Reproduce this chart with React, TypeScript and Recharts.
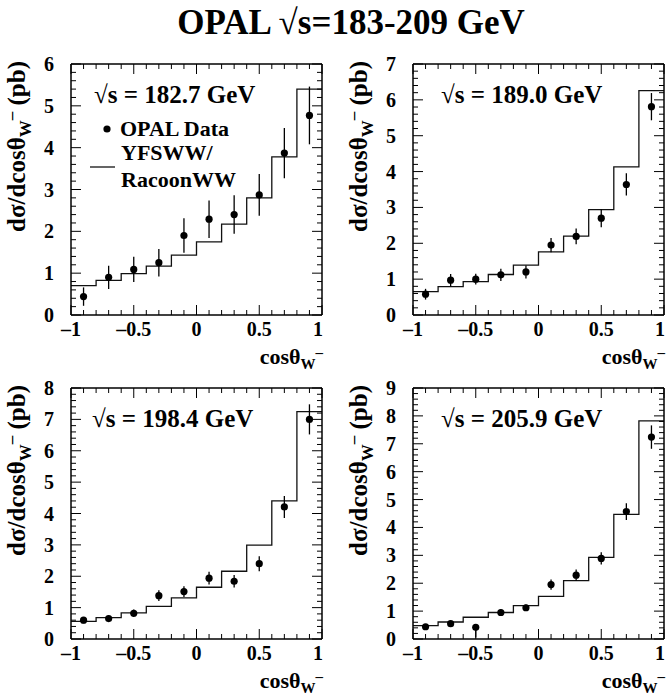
import React from 'react';
import { ComposedChart, Line, Scatter, ErrorBar, XAxis, YAxis } from 'recharts';

const FONT = '"Liberation Serif", "Times New Roman", Times, serif';

// ---------- data ----------
const binEdges = [-1, -0.8, -0.6, -0.4, -0.2, 0, 0.2, 0.4, 0.6, 0.8, 1];
const binCenters = [-0.9, -0.7, -0.5, -0.3, -0.1, 0.1, 0.3, 0.5, 0.7, 0.9];

const energyLabels = ['√s = 182.7 GeV', '√s = 189.0 GeV', '√s = 198.4 GeV', '√s = 205.9 GeV'];

const mc1827 = [0.70, 0.83, 0.99, 1.17, 1.43, 1.75, 2.17, 2.80, 3.78, 5.40];
const data1827 = [0.44, 0.90, 1.09, 1.25, 1.90, 2.29, 2.40, 2.87, 3.87, 4.77];
const err1827 = [0.22, 0.28, 0.30, 0.33, 0.41, 0.45, 0.46, 0.50, 0.60, 0.69];

const mc1890 = [0.65, 0.79, 0.93, 1.13, 1.39, 1.76, 2.20, 2.94, 4.13, 6.26];
const data1890 = [0.58, 0.97, 1.00, 1.12, 1.20, 1.95, 2.19, 2.70, 3.64, 5.81];
const err1890 = [0.15, 0.17, 0.15, 0.17, 0.18, 0.20, 0.22, 0.25, 0.31, 0.38];

const mc1984 = [0.56, 0.68, 0.83, 1.04, 1.31, 1.65, 2.16, 2.99, 4.40, 7.25];
const data1984 = [0.60, 0.65, 0.82, 1.38, 1.51, 1.94, 1.84, 2.40, 4.21, 7.00];
const err1984 = [0.10, 0.10, 0.12, 0.17, 0.17, 0.20, 0.20, 0.24, 0.35, 0.48];

const mc2059 = [0.48, 0.61, 0.78, 0.95, 1.20, 1.53, 2.09, 2.93, 4.47, 7.82];
const data2059 = [0.44, 0.55, 0.42, 0.95, 1.12, 1.95, 2.29, 2.89, 4.57, 7.24];
const errLo2059 = [0.08, 0.10, 0.37, 0.12, 0.12, 0.18, 0.20, 0.22, 0.30, 0.42];
const errHi2059 = [0.08, 0.10, 0.04, 0.12, 0.12, 0.18, 0.20, 0.22, 0.30, 0.42];

// ---------- ticks ----------
const xMajorTicks = [-1, -0.5, 0, 0.5, 1];
const xTickLabels = ['–1', '–0.5', '0', '0.5', '1'];
const xMinorTicks = [-1, -0.9, -0.8, -0.7, -0.6, -0.5, -0.4, -0.3, -0.2, -0.1, 0, 0.1, 0.2, 0.3, 0.4, 0.5, 0.6, 0.7, 0.8, 0.9, 1];

const yLabels6 = ['0', '1', '2', '3', '4', '5', '6'];
const yLabels7 = ['0', '1', '2', '3', '4', '5', '6', '7'];
const yLabels8 = ['0', '1', '2', '3', '4', '5', '6', '7', '8'];
const yLabels9 = ['0', '1', '2', '3', '4', '5', '6', '7', '8', '9'];

const makeYTicks = (max: number) => {
  const out: number[] = [];
  for (let i = 0; i <= max * 5; i++) out.push(Math.round(i * 200) / 1000);
  return out;
};

// ---------- layout ----------
const PLOT = 251;
const M = { top: 14, right: 19, bottom: 44, left: 64 }; // + 1px axis bands on every side
const CW = M.left + 1 + PLOT + 1 + M.right;
const CH = M.top + 1 + PLOT + 1 + M.bottom;
const MAJ = 10;
const MIN = 5;
const TICK_FS = 20;

const isMajorX = (v: number) => xMajorTicks.some((m) => Math.abs(m - v) < 1e-6);
const isMajorY = (v: number) => Math.abs(v - Math.round(v)) < 1e-6;

const BottomTick = (props: any) => {
  const { x, y, payload } = props;
  const v = payload.value;
  const major = isMajorX(v);
  const idx = xMajorTicks.findIndex((m) => Math.abs(m - v) < 1e-6);
  const last = idx === xMajorTicks.length - 1;
  return (
    <g>
      <line x1={x} x2={x} y1={y} y2={y - (major ? MAJ : MIN)} stroke="#000" strokeWidth={1} />
      {major && (
        <text
          x={last ? x + 1 : x}
          y={y + 21}
          textAnchor={last ? 'end' : 'middle'}
          fontFamily={FONT}
          fontWeight="bold"
          fontSize={TICK_FS}
          fill="#000"
        >
          {xTickLabels[idx]}
        </text>
      )}
    </g>
  );
};

const TopTick = (props: any) => {
  const { x, y, payload } = props;
  const major = isMajorX(payload.value);
  return <line x1={x} x2={x} y1={y} y2={y + (major ? MAJ : MIN)} stroke="#000" strokeWidth={1} />;
};

const makeLeftTick = (labels: string[]) => (props: any) => {
  const { x, y, payload } = props;
  const v = payload.value;
  const major = isMajorY(v);
  return (
    <g>
      <line x1={x} x2={x + (major ? MAJ : MIN)} y1={y} y2={y} stroke="#000" strokeWidth={1} />
      {major && (
        <text x={x - 17} y={y} dy="0.35em" textAnchor="end" fontFamily={FONT} fontWeight="bold" fontSize={TICK_FS} fill="#000">
          {labels[Math.round(v)]}
        </text>
      )}
    </g>
  );
};

const RightTick = (props: any) => {
  const { x, y, payload } = props;
  const major = isMajorY(payload.value);
  return <line x1={x} x2={x - (major ? MAJ : MIN)} y1={y} y2={y} stroke="#000" strokeWidth={1} />;
};

const Dot = (p: any) => <circle cx={p.cx} cy={p.cy} r={3.6} fill="#000" />;

type PanelProps = {
  left: number;
  top: number;
  mc: number[];
  pts: number[];
  lo: number[];
  hi: number[];
  yMax: number;
  yLabels: string[];
};

function Panel({ left, top, mc, pts, lo, hi, yMax, yLabels }: PanelProps) {
  const hist = binEdges.map((x, i) => ({ x, h: mc[Math.min(i, mc.length - 1)] }));
  const points = binCenters.map((x, i) => ({ x, y: pts[i], e: [lo[i], hi[i]] }));
  const yTicks = makeYTicks(yMax);
  const axisLine = { stroke: '#000', strokeWidth: 1.5 };
  return (
    <div style={{ position: 'absolute', left: left - M.left - 1, top: top - M.top - 1, width: CW, height: CH }}>
      <ComposedChart width={CW} height={CH} margin={M}>
        <XAxis
          xAxisId="b"
          type="number"
          dataKey="x"
          domain={[-1, 1]}
          ticks={xMinorTicks}
          interval={0}
          tickSize={0}
          tickMargin={0}
          height={1}
          axisLine={axisLine}
          tickLine={false}
          tick={BottomTick}
          allowDataOverflow
        />
        <XAxis
          xAxisId="t"
          orientation="top"
          type="number"
          dataKey="x"
          domain={[-1, 1]}
          ticks={xMinorTicks}
          interval={0}
          tickSize={0}
          tickMargin={0}
          height={1}
          axisLine={axisLine}
          tickLine={false}
          tick={TopTick}
          allowDataOverflow
        />
        <YAxis
          yAxisId="l"
          type="number"
          dataKey="y"
          domain={[0, yMax]}
          ticks={yTicks}
          interval={0}
          tickSize={0}
          tickMargin={0}
          width={1}
          axisLine={axisLine}
          tickLine={false}
          tick={makeLeftTick(yLabels)}
          allowDataOverflow
        />
        <YAxis
          yAxisId="r"
          orientation="right"
          type="number"
          dataKey="y"
          domain={[0, yMax]}
          ticks={yTicks}
          interval={0}
          tickSize={0}
          tickMargin={0}
          width={1}
          axisLine={axisLine}
          tickLine={false}
          tick={RightTick}
          allowDataOverflow
        />
        <Line
          xAxisId="b"
          yAxisId="l"
          data={hist}
          type="stepAfter"
          dataKey="h"
          stroke="#111"
          strokeWidth={1.3}
          dot={false}
          activeDot={false}
          isAnimationActive={false}
        />
        <Scatter xAxisId="b" yAxisId="l" data={points} dataKey="y" shape={Dot} isAnimationActive={false}>
          <ErrorBar dataKey="e" direction="y" width={0} stroke="#000" strokeWidth={1.3} isAnimationActive={false} />
        </Scatter>
      </ComposedChart>
    </div>
  );
}

const panels = [
  { left: 71, top: 64, mc: mc1827, pts: data1827, lo: err1827, hi: err1827, yMax: 6, yLabels: yLabels6, lx: 94 },
  { left: 413, top: 64, mc: mc1890, pts: data1890, lo: err1890, hi: err1890, yMax: 7, yLabels: yLabels7, lx: 441 },
  { left: 71, top: 388, mc: mc1984, pts: data1984, lo: err1984, hi: err1984, yMax: 8, yLabels: yLabels8, lx: 92 },
  { left: 413, top: 388, mc: mc2059, pts: data2059, lo: errLo2059, hi: errHi2059, yMax: 9, yLabels: yLabels9, lx: 441 },
];

export default function App() {
  return (
    <div style={{ position: 'absolute', left: 0, top: 0, width: 667, height: 700, overflow: 'hidden', background: '#fff' }}>
      {panels.map((p, i) => (
        <Panel key={i} {...p} />
      ))}
      <svg width={667} height={700} style={{ position: 'absolute', left: 0, top: 0, pointerEvents: 'none' }}>
        <g fontFamily={FONT} fontWeight="bold" fill="#000">
          <text x={351} y={34} textAnchor="middle" fontSize={35}>
            OPAL √s=183-209 GeV
          </text>
          {panels.map((p, i) => {
            const ylx = p.left - 46;
            const yly = p.top - 3;
            const xlx = p.left + PLOT + 1;
            const xly = p.top + PLOT + 49;
            return (
              <g key={i}>
                <text transform={`translate(${ylx},${yly}) rotate(-90)`} textAnchor="end" fontSize={25}>
                  dσ/dcosθ
                  <tspan fontSize={17} dy={6}>W</tspan>
                  <tspan fontSize={17} dy={-14}>–</tspan>
                  <tspan dy={8}> (pb)</tspan>
                </text>
                <text x={xlx} y={xly} textAnchor="end" fontSize={22}>
                  cosθ
                  <tspan fontSize={15} dy={5}>W</tspan>
                  <tspan fontSize={15} dy={-12}>–</tspan>
                </text>
                <text x={p.lx} y={p.top + 39} fontSize={25}>
                  {energyLabels[i]}
                </text>
              </g>
            );
          })}
          <circle cx={107} cy={129} r={3.6} fill="#000" />
          <text x={120} y={136} fontSize={22}>OPAL Data</text>
          <line x1={90} x2={115} y1={167} y2={167} stroke="#111" strokeWidth={1.3} />
          <text x={121} y={160} fontSize={22}>YFSWW/</text>
          <text x={121} y={187} fontSize={22}>RacoonWW</text>
        </g>
      </svg>
    </div>
  );
}
